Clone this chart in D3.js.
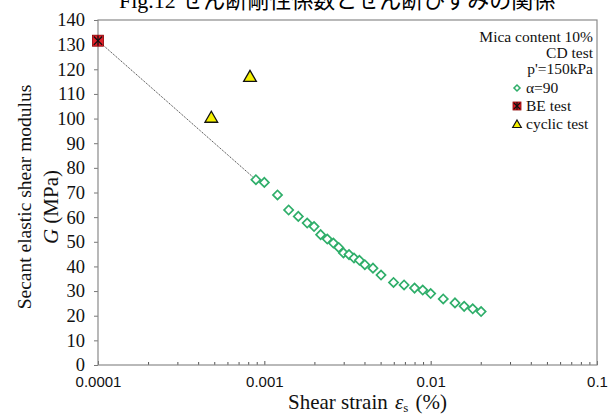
<!DOCTYPE html>
<html>
<head>
<meta charset="utf-8">
<script src="https://cdn.jsdelivr.net/npm/d3@7"></script>
<style>
  html, body { margin: 0; padding: 0; background: #fff; }
  svg { display: block; }
</style>
</head>
<body>
<svg id="chart" width="608" height="416"></svg>
<script>
// data
const strainAlpha90 = [0.00089, 0.0010, 0.00120, 0.00140, 0.00160, 0.00181, 0.00199, 0.00218, 0.00239, 0.00260,
  0.00280, 0.00299, 0.00323, 0.00346, 0.00373, 0.00402, 0.00450, 0.00503, 0.00598, 0.00692,
  0.00800, 0.00896, 0.0100, 0.0119, 0.0140, 0.0159, 0.0179, 0.0201];
const modulusAlpha90 = [75.2, 74.1, 69.0, 62.9, 60.3, 57.6, 56.2, 52.9, 51.1, 49.5,
  47.7, 45.5, 44.8, 43.4, 42.5, 40.7, 39.3, 36.5, 33.5, 32.5,
  31.2, 30.4, 29.0, 26.8, 25.2, 23.8, 22.8, 21.7];
const strainBE = [0.0001];
const modulusBE = [131.6];
const strainCyclic = [0.00048, 0.00082];
const modulusCyclic = [100.4, 117.0];

const xMajorTicks = [0.0001, 0.001, 0.01, 0.1];
const xTickLabels = ["0.0001", "0.001", "0.01", "0.1"];
const yTicks = d3.range(0, 141, 10);
const legendNotes = ["Mica content 10%", "CD test", "p'=150kPa"];
const legendSeries = ["α=90", "BE test", "cyclic test"];
const titleText = "Fig.12 せん断剛性係数とせん断ひずみの関係";

const svg = d3.select("#chart");
const plotL = 98, plotR = 597, plotT = 20, plotB = 365;
const serif = "'Liberation Serif', 'Times New Roman', serif";

const x = d3.scaleLog().domain([0.0001, 0.1]).range([plotL, plotR]);
const y = d3.scaleLinear().domain([0, 140]).range([plotB, plotT]);

// title, cut off at the top (as in the source image)
svg.append("text")
  .attr("x", 119).attr("y", 8)
  .style("font-family", "'Liberation Serif', 'Noto Sans CJK JP', serif")
  .style("font-size", "22px")
  .text(titleText);

// minor + major ticks on the log axis
let xTicks = [];
xMajorTicks.slice(0, -1).forEach(d => {
  for (let k = 1; k < 10; k++) xTicks.push(d * k);
});
xTicks.push(0.1);
const isMajor = d => xMajorTicks.some(m => Math.abs(m - d) / m < 1e-6);

const xAxis = svg.append("g")
  .attr("transform", `translate(0,${plotB})`)
  .call(d3.axisBottom(x).tickValues(xTicks).tickSizeInner(-3).tickSizeOuter(0)
    .tickFormat(d => {
      const i = xMajorTicks.findIndex(m => Math.abs(m - d) / m < 1e-6);
      return i >= 0 ? xTickLabels[i] : "";
    }));
xAxis.select(".domain").remove();
xAxis.selectAll(".tick line").attr("stroke", "#555")
  .attr("y2", d => isMajor(d) ? -4 : -3);
xAxis.selectAll(".tick text")
  .attr("y", 11)
  .style("font-family", "'Liberation Sans', Arial, sans-serif")
  .style("font-size", "15px")
  .attr("fill", "#111");

const yAxis = svg.append("g")
  .attr("transform", `translate(${plotL},0)`)
  .call(d3.axisLeft(y).tickValues(yTicks).tickSizeInner(4).tickSizeOuter(0));
yAxis.select(".domain").remove();
yAxis.selectAll(".tick line").attr("stroke", "#777");
yAxis.selectAll(".tick text")
  .attr("x", -13)
  .style("font-family", serif)
  .style("font-size", "18.5px")
  .attr("fill", "#111");

// plot frame
svg.append("rect")
  .attr("x", plotL).attr("y", plotT)
  .attr("width", plotR - plotL).attr("height", plotB - plotT)
  .attr("fill", "none").attr("stroke", "#8a8a8a").attr("stroke-width", 1.2);

// dotted connector BE -> first alpha point
svg.append("line")
  .attr("x1", x(strainBE[0])).attr("y1", y(modulusBE[0]))
  .attr("x2", x(strainAlpha90[0])).attr("y2", y(modulusAlpha90[0]))
  .attr("stroke", "#444").attr("stroke-width", 1)
  .attr("stroke-dasharray", "1.2,1");

const green = "#2fae6a";
const diamond = d3.symbol().type(d3.symbolSquare).size(42);
svg.append("g").selectAll("path")
  .data(strainAlpha90.map((s, i) => [s, modulusAlpha90[i]]))
  .join("path")
  .attr("d", diamond)
  .attr("transform", d => `translate(${x(d[0])},${y(d[1])}) rotate(45)`)
  .attr("fill", "#fff").attr("stroke", green).attr("stroke-width", 1.7);

const tri = d3.symbol().type(d3.symbolTriangle).size(70);
svg.append("g").selectAll("path")
  .data(strainCyclic.map((s, i) => [s, modulusCyclic[i]]))
  .join("path")
  .attr("d", tri)
  .attr("transform", d => `translate(${x(d[0])},${y(d[1]) + 1})`)
  .attr("fill", "#f5f000").attr("stroke", "#111").attr("stroke-width", 1.3);

function beMarker(g, cx, cy, s) {
  g.append("rect").attr("x", cx - s / 2).attr("y", cy - s / 2)
    .attr("width", s).attr("height", s)
    .attr("fill", "#e0202a").attr("stroke", "#8b0000").attr("stroke-width", 0.8);
  const r = s * 0.38;
  [[-r, -r, r, r], [-r, r, r, -r], [0, -r * 1.2, 0, r * 1.2]].forEach(l => {
    g.append("line")
      .attr("x1", cx + l[0]).attr("y1", cy + l[1])
      .attr("x2", cx + l[2]).attr("y2", cy + l[3])
      .attr("stroke", "#111").attr("stroke-width", 1.3);
  });
}
strainBE.forEach((s, i) => beMarker(svg.append("g"), x(s), y(modulusBE[i]), 11));

// legend
const lg = svg.append("g")
  .style("font-family", serif).style("font-size", "15.5px").attr("fill", "#111");
legendNotes.forEach((t, i) => {
  lg.append("text").attr("x", 593).attr("y", 42 + i * 16)
    .attr("text-anchor", "end").text(t);
});
legendSeries.forEach((t, i) => {
  lg.append("text").attr("x", 526).attr("y", 93 + i * 18).text(t);
});
lg.append("path").attr("d", d3.symbol().type(d3.symbolSquare).size(18))
  .attr("transform", "translate(517,88) rotate(45)")
  .attr("fill", "#fff").attr("stroke", green).attr("stroke-width", 1.5);
beMarker(lg.append("g"), 517, 106, 8);
lg.append("path").attr("d", d3.symbol().type(d3.symbolTriangle).size(32))
  .attr("transform", "translate(517,125)")
  .attr("fill", "#f5f000").attr("stroke", "#111").attr("stroke-width", 1.2);

// axis titles
const xl = svg.append("text")
  .attr("x", 288).attr("y", 409)
  .style("font-family", serif).style("font-size", "21px").attr("fill", "#111");
xl.append("tspan").text("Shear strain ");
xl.append("tspan").attr("dx", 2).style("font-style", "italic").text("ε");
xl.append("tspan").attr("dy", 3).style("font-size", "13px").text("s");
xl.append("tspan").attr("dy", -3).attr("dx", 2).text(" (%)");

svg.append("text")
  .attr("transform", "translate(31,197) rotate(-90)")
  .attr("text-anchor", "middle")
  .style("font-family", serif).style("font-size", "19.5px").attr("fill", "#111")
  .text("Secant elastic shear modulus");
const gl = svg.append("text")
  .attr("transform", "translate(58,207) rotate(-90)")
  .attr("text-anchor", "middle")
  .style("font-family", serif).style("font-size", "21px").attr("fill", "#111");
gl.append("tspan").style("font-style", "italic").text("G");
gl.append("tspan").text(" (MPa)");
</script>
</body>
</html>
